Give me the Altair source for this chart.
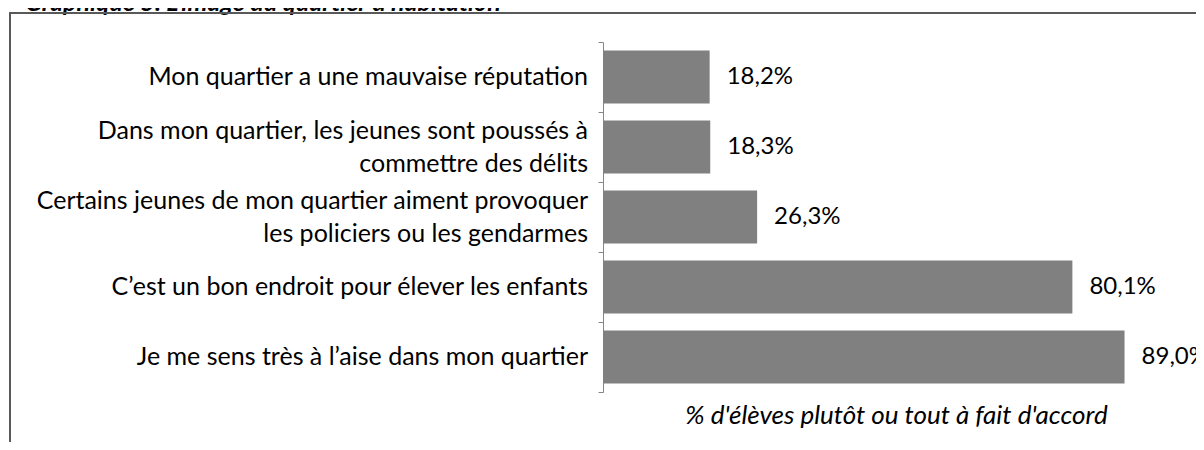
import altair as alt
import pandas as pd

categories = [
    "Mon quartier a une mauvaise réputation",
    "Dans mon quartier, les jeunes sont poussés à|commettre des délits",
    "Certains jeunes de mon quartier aiment provoquer|les policiers ou les gendarmes",
    "C’est un bon endroit pour élever les enfants",
    "Je me sens très à l’aise dans mon quartier",
]
values = [18.2, 18.3, 26.3, 80.1, 89.0]

title_text = "Graphique 5. L’image du quartier d’habitation"
x_title = "% d'élèves plutôt ou tout à fait d'accord"

df = pd.DataFrame({"cat": categories, "val": values})
df["lbl"] = [f"{v:.1f}%".replace(".", ",") for v in values]

# category label lines (split on '|')
rows = []
for c in categories:
    parts = c.split("|")
    if len(parts) == 1:
        rows.append({"cat": c, "txt": parts[0], "role": "mid"})
    else:
        rows.append({"cat": c, "txt": parts[0], "role": "top"})
        rows.append({"cat": c, "txt": parts[1], "role": "bot"})
lines_df = pd.DataFrame(rows)

FONT = "Lato"

y_enc = alt.Y(
    "cat:N",
    sort=categories,
    scale=alt.Scale(paddingInner=0, paddingOuter=0),
    axis=alt.Axis(
        title=None,
        labels=False,
        tickSize=5,
        tickBand="extent",
        tickColor="#868686",
        domainColor="#868686",
        grid=False,
    ),
)

x_enc = alt.X(
    "val:Q",
    scale=alt.Scale(domain=[0, 100], nice=False),
    axis=alt.Axis(
        title=x_title,
        labels=False,
        ticks=False,
        domain=False,
        grid=False,
        titleFont=FONT,
        titleFontSize=26,
        titleFontStyle="italic",
        titleFontWeight="normal",
        titleColor="#000000",
        titlePadding=10,
    ),
)

base_one = alt.Chart(df.head(1))

frame = base_one.mark_rect(
    fill="transparent", stroke="#595959", strokeWidth=2
).encode(
    x=alt.value(-593), x2=alt.value(800), y=alt.value(-29), y2=alt.value(600)
)

title_mark = base_one.mark_text(
    align="left", baseline="alphabetic", font=FONT, fontSize=25,
    fontStyle="italic", fontWeight="bold", color="#000000"
).encode(x=alt.value(-578), y=alt.value(-31), text=alt.value(title_text))

bars = alt.Chart(df).mark_bar(
    color="#808080", height=alt.RelativeBandSize(0.757)
).encode(x=x_enc, y=y_enc)

labels = alt.Chart(df).mark_text(
    align="left", baseline="middle", dx=17, font=FONT, fontSize=24, color="#000000"
).encode(x="val:Q", y=alt.Y("cat:N", sort=categories), text="lbl:N")


def cat_text(role, dy):
    return (
        alt.Chart(lines_df)
        .transform_filter(alt.datum.role == role)
        .mark_text(align="right", baseline="middle", dy=dy, font=FONT,
                   fontSize=25, color="#000000")
        .encode(x=alt.value(-15), y=alt.Y("cat:N", sort=categories), text="txt:N")
    )


cat_mid = cat_text("mid", 0)
cat_top = cat_text("top", -16.5)
cat_bot = cat_text("bot", 16.5)

chart = alt.layer(title_mark, frame, bars, labels, cat_mid, cat_top, cat_bot).properties(
    width=586,
    height=350,
    autosize=alt.AutoSizeParams(type="none"),
    padding={"left": 595, "top": 34, "right": 7, "bottom": 50},
).configure_view(stroke=None)

chart.save("out.html", embed_options={"renderer": "svg", "actions": False})
